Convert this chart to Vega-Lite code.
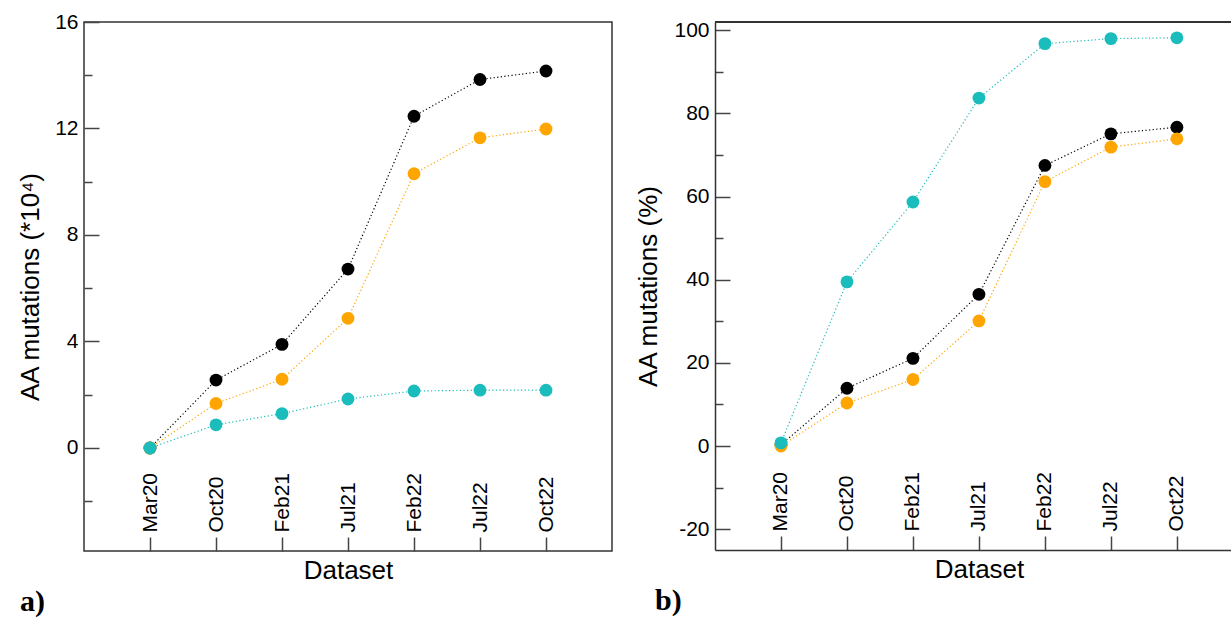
{
  "$schema": "https://vega.github.io/schema/vega-lite/v6.json",
  "background": "white",
  "padding": {"left": 16, "top": 10, "right": 0, "bottom": 0},
  "spacing": 22,
  "datasets": {
    "abs": [
      {"dataset": "Mar20", "i": 0, "series": "A", "value": 0},
      {"dataset": "Oct20", "i": 1, "series": "A", "value": 2.55},
      {"dataset": "Feb21", "i": 2, "series": "A", "value": 3.89},
      {"dataset": "Jul21", "i": 3, "series": "A", "value": 6.72},
      {"dataset": "Feb22", "i": 4, "series": "A", "value": 12.46},
      {"dataset": "Jul22", "i": 5, "series": "A", "value": 13.84},
      {"dataset": "Oct22", "i": 6, "series": "A", "value": 14.16},
      {"dataset": "Mar20", "i": 0, "series": "B", "value": 0},
      {"dataset": "Oct20", "i": 1, "series": "B", "value": 1.67},
      {"dataset": "Feb21", "i": 2, "series": "B", "value": 2.58},
      {"dataset": "Jul21", "i": 3, "series": "B", "value": 4.87},
      {"dataset": "Feb22", "i": 4, "series": "B", "value": 10.3},
      {"dataset": "Jul22", "i": 5, "series": "B", "value": 11.65},
      {"dataset": "Oct22", "i": 6, "series": "B", "value": 11.98},
      {"dataset": "Mar20", "i": 0, "series": "C", "value": 0},
      {"dataset": "Oct20", "i": 1, "series": "C", "value": 0.87},
      {"dataset": "Feb21", "i": 2, "series": "C", "value": 1.29},
      {"dataset": "Jul21", "i": 3, "series": "C", "value": 1.84},
      {"dataset": "Feb22", "i": 4, "series": "C", "value": 2.14},
      {"dataset": "Jul22", "i": 5, "series": "C", "value": 2.17},
      {"dataset": "Oct22", "i": 6, "series": "C", "value": 2.17}
    ],
    "pct": [
      {"dataset": "Mar20", "i": 0, "series": "A", "value": 0.3},
      {"dataset": "Oct20", "i": 1, "series": "A", "value": 13.9},
      {"dataset": "Feb21", "i": 2, "series": "A", "value": 21.1},
      {"dataset": "Jul21", "i": 3, "series": "A", "value": 36.5},
      {"dataset": "Feb22", "i": 4, "series": "A", "value": 67.5},
      {"dataset": "Jul22", "i": 5, "series": "A", "value": 75.1},
      {"dataset": "Oct22", "i": 6, "series": "A", "value": 76.7},
      {"dataset": "Mar20", "i": 0, "series": "B", "value": 0},
      {"dataset": "Oct20", "i": 1, "series": "B", "value": 10.35},
      {"dataset": "Feb21", "i": 2, "series": "B", "value": 16.0},
      {"dataset": "Jul21", "i": 3, "series": "B", "value": 30.1},
      {"dataset": "Feb22", "i": 4, "series": "B", "value": 63.6},
      {"dataset": "Jul22", "i": 5, "series": "B", "value": 71.9},
      {"dataset": "Oct22", "i": 6, "series": "B", "value": 73.9},
      {"dataset": "Mar20", "i": 0, "series": "C", "value": 0.76},
      {"dataset": "Oct20", "i": 1, "series": "C", "value": 39.5},
      {"dataset": "Feb21", "i": 2, "series": "C", "value": 58.7},
      {"dataset": "Jul21", "i": 3, "series": "C", "value": 83.7},
      {"dataset": "Feb22", "i": 4, "series": "C", "value": 96.8},
      {"dataset": "Jul22", "i": 5, "series": "C", "value": 98.0},
      {"dataset": "Oct22", "i": 6, "series": "C", "value": 98.2}
    ]
  },
  "hconcat": [
    {
      "width": 528,
      "height": 529,
      "view": {"stroke": "#333", "strokeWidth": 1.5},
      "title": {"text": "a)", "orient": "bottom", "anchor": "start", "font": "Liberation Serif", "fontSize": 30, "fontWeight": "bold", "color": "black", "offset": 4, "dx": 3},
      "data": {"name": "abs"},
      "encoding": {
        "x": {"field": "i", "type": "quantitative", "scale": {"domain": [-1, 7], "nice": false, "zero": false},
          "axis": {"values": [0, 1, 2, 3, 4, 5, 6], "labelExpr": "['Mar20','Oct20','Feb21','Jul21','Feb22','Jul22','Oct22'][datum.value]",
            "labelAngle": -90, "labelAlign": "left", "labelBaseline": "middle", "labelFlush": false, "labelOverlap": false,
            "tickSize": -14, "labelPadding": -5, "domain": false, "grid": false,
            "tickColor": "#444", "tickWidth": 1.5, "labelFont": "Liberation Sans", "labelFontSize": 21, "labelColor": "black",
            "title": "Dataset", "titleFont": "Liberation Sans", "titleFontSize": 26, "titleFontWeight": "normal", "titleColor": "black",
            "titlePadding": 6, "minExtent": 0, "maxExtent": 0}},
        "y": {"field": "value", "type": "quantitative", "scale": {"domain": [-3.87, 16], "nice": false, "zero": false},
          "axis": {"values": [-2, 0, 2, 4, 6, 8, 10, 12, 14, 16], "labelExpr": "datum.value % 4 === 0 ? '' + datum.value : ''",
            "tickSize": -15, "tickDash": {"condition": {"test": "datum.value % 4 !== 0", "value": [8, 40]}, "value": [20, 0]},
            "labelPadding": 21, "labelFlush": false, "labelOverlap": false, "domain": false, "grid": false,
            "tickColor": "#444", "tickWidth": 1.5, "labelFont": "Liberation Sans", "labelFontSize": 21, "labelColor": "black",
            "title": "AA mutations (*10⁴)", "titleFont": "Liberation Sans", "titleFontSize": 26, "titleFontWeight": "normal", "titleColor": "black",
            "titlePadding": 11, "minExtent": 30, "maxExtent": 30}},
        "color": {"field": "series", "type": "nominal", "scale": {"domain": ["A", "B", "C"], "range": ["#000000", "#FFA500", "#1BBCBC"]}, "legend": null}
      },
      "layer": [
        {"mark": {"type": "line", "strokeWidth": 1.2, "strokeDash": [1.2, 2.4]}},
        {"mark": {"type": "circle", "size": 165, "opacity": 1}}
      ]
    },
    {
      "width": 516,
      "height": 528,
      "view": {"stroke": null},
      "title": {"text": "b)", "orient": "bottom", "anchor": "start", "font": "Liberation Serif", "fontSize": 30, "fontWeight": "bold", "color": "black", "offset": 4, "dx": 20},
      "data": {"name": "pct"},
      "layer": [
        {
          "mark": {"type": "rule", "color": "#333", "strokeWidth": 1.5},
          "encoding": {"y": {"datum": 102, "type": "quantitative"}}
        },
        {
          "mark": {"type": "line", "strokeWidth": 1.2, "strokeDash": [1.2, 2.4]},
          "encoding": {
            "x": {"field": "i", "type": "quantitative", "scale": {"domain": [-1, 6.82], "nice": false, "zero": false},
              "axis": {"values": [0, 1, 2, 3, 4, 5, 6], "labelExpr": "['Mar20','Oct20','Feb21','Jul21','Feb22','Jul22','Oct22'][datum.value]",
                "labelAngle": -90, "labelAlign": "left", "labelBaseline": "middle", "labelFlush": false, "labelOverlap": false,
                "tickSize": -14, "labelPadding": -5, "domain": true, "domainColor": "#333", "domainWidth": 1.5, "grid": false,
                "tickColor": "#444", "tickWidth": 1.5, "labelFont": "Liberation Sans", "labelFontSize": 21, "labelColor": "black",
                "title": "Dataset", "titleFont": "Liberation Sans", "titleFontSize": 26, "titleFontWeight": "normal", "titleColor": "black",
                "titlePadding": 6, "titleX": 264, "minExtent": 0, "maxExtent": 0}},
            "y": {"field": "value", "type": "quantitative", "scale": {"domain": [-25, 102], "nice": false, "zero": false},
              "axis": {"values": [-20, -10, 0, 10, 20, 30, 40, 50, 60, 70, 80, 90, 100], "labelExpr": "datum.value % 20 === 0 ? '' + datum.value : ''",
                "tickSize": -15, "tickDash": {"condition": {"test": "datum.value % 20 !== 0", "value": [8, 40]}, "value": [20, 0]},
                "labelPadding": 21, "labelFlush": false, "labelOverlap": false, "domain": true, "domainColor": "#333", "domainWidth": 1.5, "grid": false,
                "tickColor": "#444", "tickWidth": 1.5, "labelFont": "Liberation Sans", "labelFontSize": 21, "labelColor": "black",
                "title": "AA mutations (%)", "titleFont": "Liberation Sans", "titleFontSize": 26, "titleFontWeight": "normal", "titleColor": "black",
                "titlePadding": 14, "minExtent": 40, "maxExtent": 40}},
            "color": {"field": "series", "type": "nominal", "scale": {"domain": ["A", "B", "C"], "range": ["#000000", "#FFA500", "#1BBCBC"]}, "legend": null}
          }
        },
        {
          "mark": {"type": "circle", "size": 165, "opacity": 1},
          "encoding": {
            "x": {"field": "i", "type": "quantitative"},
            "y": {"field": "value", "type": "quantitative"},
            "color": {"field": "series", "type": "nominal", "legend": null}
          }
        }
      ]
    }
  ]
}
